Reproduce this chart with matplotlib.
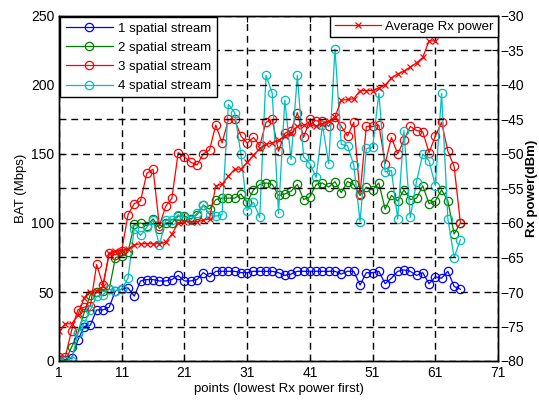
import matplotlib.pyplot as plt

plt.rcParams['font.family'] = ['Liberation Sans', 'DejaVu Sans']
plt.rcParams['font.size'] = 9.5

# Messpunkte, sortiert nach Empfangsleistung
bat_1ss = [0, 1, 2, 15, 25, 26, 37, 37, 39, 51, 52, 53, 47, 58, 59, 59, 58, 58, 59, 62,
           58, 58, 59, 64, 61, 65, 65, 65, 65, 64, 64, 65, 65, 65, 65, 64, 62, 63, 65, 65,
           65, 65, 65, 65, 65, 63, 65, 65, 55, 64, 64, 65, 56, 60, 65, 66, 65, 62, 64, 56,
           61, 60, 65, 54, 52]
bat_2ss = [0, 0, 10, 20, 35, 48, 50, 51, 52, 75, 76, 79, 99, 100, 98, 103, 96, 100, 100, 105,
           105, 103, 106, 113, 110, 117, 118, 118, 118, 121, 115, 124, 128, 129, 128, 120, 121, 123, 128, 117,
           119, 128, 129, 126, 130, 122, 130, 128, 120, 126, 124, 129, 110, 120, 116, 124, 117, 118, 127, 114,
           116, 124, 116, 92, 100]
bat_3ss = [3, 3, 22, 37, 39, 40, 70, 55, 78, 77, 80, 106, 114, 116, 136, 139, 98, 112, 118, 151,
           148, 144, 142, 150, 153, 171, 158, 175, 175, 163, 158, 162, 156, 173, 175, 152, 165, 167, 180, 162,
           175, 174, 174, 170, 177, 170, 163, 173, 121, 170, 170, 171, 143, 162, 150, 160, 170, 167, 166, 151,
           163, 173, 152, 141, 100]
bat_4ss = [0, 0, 0, 20, 27, 37, 47, 48, 52, 51, 52, 60, 96, 91, 97, 102, 84, 102, 102, 106,
           104, 102, 107, 113, 106, 105, 106, 186, 180, 150, 109, 115, 104, 207, 194, 107, 189, 146, 207, 148,
           143, 133, 171, 143, 226, 157, 156, 142, 101, 154, 155, 194, 137, 138, 103, 167, 104, 130, 150, 145,
           127, 194, 103, 75, 88]
rx_power = [-75.7, -74.6, -74.6, -73.4, -70.8, -70.0, -69.8, -69.2, -64.4, -64.0,
            -64.0, -63.8, -63.2, -63.0, -63.0, -63.0, -63.0, -62.8, -61.6, -60.0,
            -59.8, -59.8, -59.8, -59.6, -59.4, -54.6, -54.4, -53.2, -52.2, -52.2,
            -51.2, -50.2, -49.2, -48.6, -48.4, -48.0, -47.4, -47.0, -46.0, -45.8,
            -45.8, -46.0, -45.6, -45.2, -44.6, -42.2, -42.1, -42.0, -40.8, -40.8,
            -40.8, -40.4, -40.0, -39.0, -38.4, -38.0, -37.4, -36.8, -36.0, -33.6,
            -33.6]

punkte = list(range(1, len(bat_1ss) + 1))
punkte_rx = list(range(1, len(rx_power) + 1))

x_ticks = [1, 11, 21, 31, 41, 51, 61, 71]
bat_ticks = [0, 50, 100, 150, 200, 250]
rx_ticks = [-80, -75, -70, -65, -60, -55, -50, -45, -40, -35, -30]

fig = plt.figure(figsize=(5.39, 4.0), dpi=100)
ax = fig.add_axes([0.1095, 0.0975, 0.8145, 0.8625])
ax2 = ax.twinx()

kreis = dict(marker='o', markersize=6, markerfacecolor='none', linewidth=0.9, markeredgewidth=0.9)
ax.plot(punkte, bat_1ss, color='#0000ff', label='1 spatial stream', **kreis)
ax.plot(punkte, bat_2ss, color='#008000', label='2 spatial stream', **kreis)
ax.plot(punkte, bat_3ss, color='#ff0000', label='3 spatial stream', **kreis)
ax.plot(punkte, bat_4ss, color='#00bfbf', label='4 spatial stream', **kreis)

ax2.plot(punkte_rx, rx_power, color='#ff0000', marker='x', markersize=4,
         markeredgewidth=0.9, linewidth=0.9, label='Average Rx power')

ax.set_xlim(1, 71)
ax.set_ylim(0, 250)
ax2.set_ylim(-80, -30)
ax.set_xticks(x_ticks)
ax.set_yticks(bat_ticks)
ax2.set_yticks(rx_ticks)

# gestricheltes Gitter wie in MATLAB
gitter = dict(color='black', linestyle=(0, (5, 3.5)), linewidth=1.0)
ax.xaxis.grid(True, **gitter)
ax2.yaxis.grid(True, **gitter)
ax.set_axisbelow(True)

ax.tick_params(direction='in', top=True, length=4, width=0.8, labelsize=10)
ax2.tick_params(direction='in', length=4, width=0.8, labelsize=10, pad=2)
for a in (ax, ax2):
    for s in a.spines.values():
        s.set_linewidth(1.0)

ax.set_xlabel('points (lowest Rx power first)', fontsize=9.5, labelpad=2)
ax.set_ylabel('BAT (Mbps)', fontsize=9.5, labelpad=3)
ax2.set_ylabel('Rx power(dBm)', fontsize=9.5, fontweight='bold', labelpad=1)

# beide Legenden auf der oberen Achse, damit das Gitter sie nicht überdeckt
h1, l1 = ax.get_legend_handles_labels()
leg1 = ax2.legend(h1, l1, loc='upper left', fancybox=False, edgecolor='black', framealpha=1,
                  handlelength=3.6, borderaxespad=0.1, labelspacing=0.52,
                  borderpad=0.4, handletextpad=0.4)
leg1.get_frame().set_linewidth(1.0)
ax2.add_artist(leg1)
h2, l2 = ax2.get_legend_handles_labels()
leg2 = ax2.legend(h2, l2, loc='upper right', fancybox=False, edgecolor='black', framealpha=1,
                  handlelength=3.5, borderaxespad=0.0, borderpad=0.35, handletextpad=0.3)
leg2.get_frame().set_linewidth(1.0)

fig.savefig('out.png', dpi=100)
